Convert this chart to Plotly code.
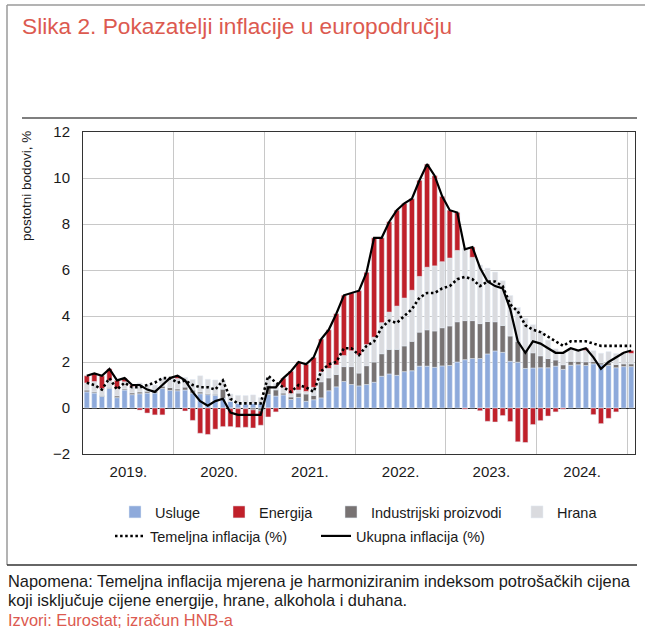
import plotly.graph_objects as go

years = [2019, 2020, 2021, 2022, 2023, 2024, 2025]
months = [f"{y}-{m:02d}" for y in years for m in range(1, 13)][:73]
year_labels = ["2019.", "2020.", "2021.", "2022.", "2023.", "2024."]

usluge = [
    0.70, 0.65, 0.50, 0.85, 0.45, 0.78, 0.58, 0.62, 0.65, 0.65, 0.85, 0.76,
    0.75, 0.78, 0.65, 0.62, 0.58, 0.55, 0.42, 0.28, 0.20, 0.17, 0.20, 0.20,
    0.59, 0.52, 0.57, 0.37, 0.46, 0.29, 0.36, 0.44, 0.75, 0.92, 1.15, 1.02,
    0.96, 1.02, 1.12, 1.38, 1.48, 1.42, 1.58, 1.62, 1.82, 1.82, 1.77, 1.83,
    1.85, 2.00, 2.10, 2.15, 2.15, 2.35, 2.48, 2.42, 2.03, 1.99, 1.72, 1.74,
    1.75, 1.75, 1.82, 1.68, 1.86, 1.88, 1.85, 1.92, 1.88, 1.85, 1.75, 1.80,
    1.80,
]
industrijski = [
    0.08, 0.05, 0.05, 0.05, 0.08, 0.05, 0.08, 0.08, 0.08, 0.08, 0.10, 0.13,
    0.08, 0.13, 0.13, 0.08, 0.05, 0.05, 0.40, -0.03, -0.03, -0.03, -0.08, -0.13,
    0.40, 0.27, 0.08, 0.11, 0.19, 0.32, 0.19, 0.70, 0.56, 0.54, 0.65, 0.78,
    0.56, 0.82, 0.88, 0.98, 1.07, 1.13, 1.12, 1.28, 1.48, 1.58, 1.58, 1.66,
    1.72, 1.75, 1.70, 1.65, 1.52, 1.41, 1.27, 1.17, 1.10, 0.90, 0.80, 0.66,
    0.52, 0.40, 0.27, 0.20, 0.17, 0.15, 0.16, 0.10, 0.08, 0.12, 0.14, 0.12,
    0.12,
]
hrana = [
    0.31, 0.45, 0.29, 0.29, 0.31, 0.31, 0.27, 0.39, 0.29, 0.27, 0.35, 0.39,
    0.45, 0.42, 0.46, 0.70, 0.62, 0.62, 0.39, 0.33, 0.35, 0.37, 0.37, 0.25,
    0.30, 0.28, 0.24, 0.15, 0.13, 0.11, 0.35, 0.43, 0.41, 0.41, 0.48, 0.69,
    0.78, 0.92, 1.08, 1.35, 1.62, 1.88, 2.08, 2.22, 2.42, 2.72, 2.83, 2.87,
    2.95, 3.10, 3.15, 2.75, 2.55, 2.32, 2.16, 1.94, 1.76, 1.48, 1.38, 1.22,
    1.08, 0.80, 0.48, 0.52, 0.53, 0.47, 0.49, 0.47, 0.42, 0.48, 0.48, 0.47,
    0.45,
]
energija = [
    0.31, 0.35, 0.56, 0.51, 0.36, 0.16, 0.07, -0.09, -0.22, -0.30, -0.30, 0.02,
    0.12, -0.13, -0.54, -1.10, -1.15, -0.92, -0.81, -0.78, -0.82, -0.81, -0.79, -0.62,
    -0.39, -0.17, 0.41, 0.97, 1.22, 1.18, 1.30, 1.43, 1.68, 2.23, 2.62, 2.51,
    2.80, 3.14, 4.32, 3.69, 3.93, 4.17, 4.12, 3.98, 4.18, 4.48, 3.92, 2.84,
    2.08, 1.65, -0.05, 0.45, -0.12, -0.58, -0.61, -0.33, -0.59, -1.47, -1.50, -0.72,
    -0.55, -0.35, -0.17, -0.05, 0.04, 0.00, 0.10, -0.29, -0.68, -0.45, -0.17, 0.01,
    0.13,
]
temeljna = [
    1.1, 1.0, 0.8, 1.3, 0.8, 1.1, 0.9, 0.9, 1.0, 1.1, 1.3, 1.3,
    1.1, 1.2, 1.0, 0.9, 0.9, 0.8, 1.2, 0.4, 0.2, 0.2, 0.2, 0.2,
    1.4, 1.1, 0.9, 0.7, 1.0, 0.9, 0.7, 1.6, 1.9, 2.0, 2.6, 2.6,
    2.3, 2.7, 2.9, 3.5, 3.8, 3.7, 4.0, 4.3, 4.8, 5.0, 5.0, 5.2,
    5.3, 5.6, 5.7, 5.6, 5.3, 5.5, 5.5, 5.3, 4.5, 4.2, 3.6, 3.4,
    3.3, 3.1, 2.9, 2.7, 2.9, 2.9, 2.9, 2.8, 2.7, 2.7, 2.7, 2.7,
    2.7,
]
ukupna = [
    1.4, 1.5, 1.4, 1.7, 1.2, 1.3, 1.0, 1.0, 0.8, 0.7, 1.0, 1.3,
    1.4, 1.2, 0.7, 0.3, 0.1, 0.3, 0.4, -0.2, -0.3, -0.3, -0.3, -0.3,
    0.9, 0.9, 1.3, 1.6, 2.0, 1.9, 2.2, 3.0, 3.4, 4.1, 4.9, 5.0,
    5.1, 5.9, 7.4, 7.4, 8.1, 8.6, 8.9, 9.1, 9.9, 10.6, 10.1, 9.2,
    8.6, 8.5, 6.9, 7.0, 6.1, 5.5, 5.3, 5.2, 4.3, 2.9, 2.4, 2.9,
    2.8, 2.6, 2.4, 2.4, 2.6, 2.5, 2.6, 2.2, 1.7, 2.0, 2.2, 2.4,
    2.5,
]

x = list(range(len(months)))
year_centers = [months.index(f"{y[:4]}-01") + 5.5 for y in year_labels]
year_bounds = [months.index(f"{y}-01") - 0.5 for y in years[1:]]

C_USL = "#8eaadb"
C_ENE = "#c0202a"
C_IND = "#787373"
C_HRA = "#dadbdf"
CORAL = "#dc5a50"
TXT = "#1a1a1a"
FONT = "Liberation Sans, Arial, sans-serif"

W, H = 645, 631
L, R, T, B = 83, 10, 132, 177
pw, ph = W - L - R, H - T - B


def px(xp):
    return (xp - L) / pw


def py(yp):
    return (H - B - yp) / ph


fig = go.Figure()
fig.add_trace(go.Bar(x=x, y=usluge, name="Usluge", marker_color=C_USL, legend="legend"))
fig.add_trace(go.Bar(x=x, y=industrijski, name="Industrijski proizvodi", marker_color=C_IND, legend="legend3"))
fig.add_trace(go.Bar(x=x, y=hrana, name="Hrana", marker_color=C_HRA, legend="legend4"))
fig.add_trace(go.Bar(x=x, y=energija, name="Energija", marker_color=C_ENE, legend="legend2"))
fig.add_trace(go.Scatter(x=x, y=temeljna, name="Temeljna inflacija (%)", mode="lines",
                         line=dict(color="black", width=2.6, dash="2.5px,2.6px"), legend="legend5"))
fig.add_trace(go.Scatter(x=x, y=ukupna, name="Ukupna inflacija (%)", mode="lines",
                         line=dict(color="black", width=2.2), legend="legend6"))


def leg(xp, yp):
    return dict(orientation="h", x=px(xp), xanchor="left", y=py(yp), yanchor="middle",
                font=dict(family=FONT, size=14.5, color=TXT), bgcolor="rgba(0,0,0,0)",
                itemwidth=30, borderwidth=0)


fig.update_layout(
    width=W, height=H,
    margin=dict(l=L, r=R, t=T, b=B, autoexpand=False),
    paper_bgcolor="white", plot_bgcolor="white",
    barmode="relative", bargap=0.32,
    font=dict(family=FONT, size=15, color=TXT),
    showlegend=True,
    legend=leg(115, 512), legend2=leg(219, 512), legend3=leg(331, 512), legend4=leg(517, 512),
    legend5=leg(110, 536), legend6=leg(316, 536),
    xaxis=dict(range=[-0.5, len(months) - 0.5], tickmode="array", tickvals=year_centers,
               ticktext=year_labels, showgrid=False, ticks="", ticklabelstandoff=4,
               showline=True, linecolor="#333333", linewidth=1, mirror=True, zeroline=False,
               tickfont=dict(size=15),
               minor=dict(tickmode="array", tickvals=year_bounds, showgrid=True,
                          gridcolor="#c8c8c8", gridwidth=1, ticks="")),
    yaxis=dict(range=[-2, 12], dtick=2, showgrid=True, gridcolor="#c8c8c8", gridwidth=1,
               zeroline=True, zerolinecolor="#222222", zerolinewidth=1.2,
               showline=True, linecolor="#333333", linewidth=1, mirror=True,
               ticks="", ticklabelstandoff=9, tickfont=dict(size=15)),
)

annotations = [
    dict(text="Slika 2. Pokazatelji inflacije u europodručju", x=px(20), y=py(11),
         xanchor="left", yanchor="top", font=dict(size=22.7, color=CORAL, family=FONT)),
    dict(text="postotni bodovi, %", textangle=-90, x=px(27), y=py(129),
         xanchor="center", yanchor="top", font=dict(size=13.5, family=FONT, color=TXT)),
    dict(text="Napomena: Temeljna inflacija mjerena je harmoniziranim indeksom potrošačkih cijena",
         x=px(6), y=py(581), xanchor="left", yanchor="middle", font=dict(size=16.4, color=TXT)),
    dict(text="koji isključuje cijene energije, hrane, alkohola i duhana.",
         x=px(6), y=py(600), xanchor="left", yanchor="middle", font=dict(size=16.4, color=TXT)),
    dict(text="Izvori: Eurostat; izračun HNB-a",
         x=px(6), y=py(620), xanchor="left", yanchor="middle", font=dict(size=16.4, color=CORAL)),
]
for a in annotations:
    a.update(xref="paper", yref="paper", showarrow=False)
fig.update_layout(annotations=annotations)

shapes = [
    dict(type="line", x0=px(7), x1=px(646), y0=py(5), y1=py(5), line=dict(color="#9a9a9a", width=1.5)),
    dict(type="line", x0=px(7), x1=px(7), y0=py(5), y1=py(565), line=dict(color="#9a9a9a", width=1.5)),
    dict(type="line", x0=px(22), x1=px(637), y0=py(118), y1=py(118), line=dict(color="#555555", width=1.5)),
    dict(type="line", x0=px(7), x1=px(637), y0=py(565), y1=py(565), line=dict(color="#333333", width=1.5)),
]
for s in shapes:
    s.update(xref="paper", yref="paper")
fig.update_layout(shapes=shapes)

fig.write_html("out.html", config={"displayModeBar": False},
               post_script="document.body.style.margin='0';document.body.style.overflow='hidden';")
